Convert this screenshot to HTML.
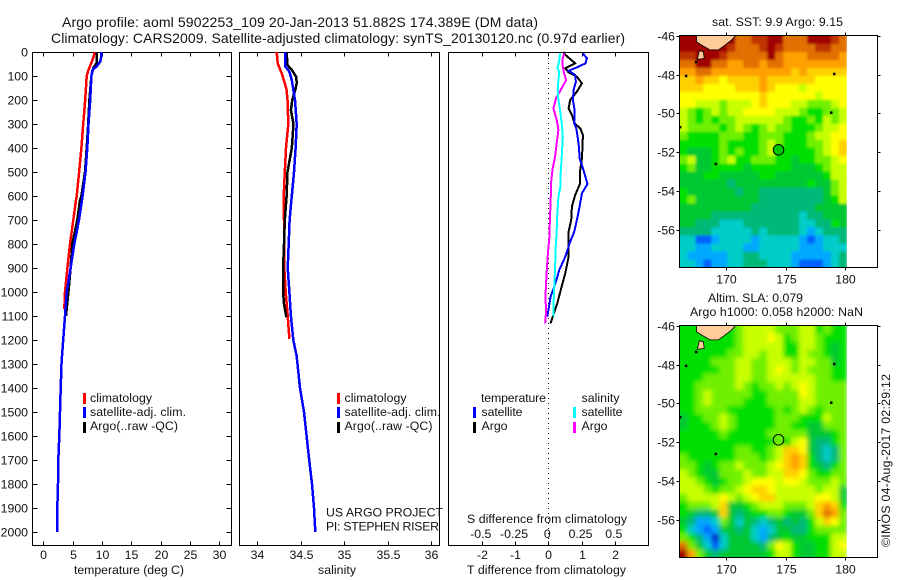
<!DOCTYPE html>
<html lang="en">
<head>
<meta charset="utf-8">
<title>Argo profile chart</title>
<style>
html,body{margin:0;padding:0;background:#fff;}
svg{display:block;}
text{font-family:"Liberation Sans",Arial,sans-serif;font-size:12.3px;fill:#111;}
.title{font-size:14px;}
</style>
</head>
<body>
<svg id="chart" xmlns="http://www.w3.org/2000/svg" width="900" height="580" viewBox="0 0 900 580">
<rect x="0" y="0" width="900" height="580" fill="#ffffff"/>
<text class="title" x="62" y="27" textLength="476" lengthAdjust="spacing">Argo profile: aoml 5902253_109 20-Jan-2013 51.882S 174.389E (DM data)</text>
<text class="title" x="51" y="43" textLength="574" lengthAdjust="spacing">Climatology: CARS2009. Satellite-adjusted climatology: synTS_20130120.nc (0.97d earlier)</text>

<g id="temp-panel"></g>
<g id="sal-panel"></g>
<g id="diff-panel"></g>
<g id="sst-map"></g>
<g id="sla-map"></g>

<text x="74" y="574" textLength="110" lengthAdjust="spacing">temperature (deg C)</text>
<text x="318" y="574" textLength="38" lengthAdjust="spacing">salinity</text>
<text x="467" y="574" textLength="159" lengthAdjust="spacing">T difference from climatology</text>
<text x="467" y="523" textLength="160" lengthAdjust="spacing">S difference from climatology</text>

<g>
<rect x="83" y="393" width="3" height="11" fill="#ff0000"/>
<rect x="83" y="407" width="3" height="11" fill="#0000ff"/>
<rect x="83" y="422" width="3" height="11" fill="#000000"/>
<text x="90" y="402" textLength="62" lengthAdjust="spacing">climatology</text>
<text x="90" y="416" textLength="96" lengthAdjust="spacing">satellite-adj. clim.</text>
<text x="90" y="430" textLength="88" lengthAdjust="spacing">Argo(..raw -QC)</text>
</g>
<g>
<rect x="337" y="393" width="3" height="11" fill="#ff0000"/>
<rect x="337" y="407" width="3" height="11" fill="#0000ff"/>
<rect x="337" y="422" width="3" height="11" fill="#000000"/>
<text x="344.5" y="402" textLength="62" lengthAdjust="spacing">climatology</text>
<text x="344.5" y="416" textLength="96" lengthAdjust="spacing">satellite-adj. clim.</text>
<text x="344.5" y="430" textLength="88" lengthAdjust="spacing">Argo(..raw -QC)</text>
</g>
<text x="326" y="516.5" textLength="117" lengthAdjust="spacing">US ARGO PROJECT</text>
<text x="326" y="530.5" textLength="113" lengthAdjust="spacing">PI: STEPHEN RISER</text>

<g>
<text x="481" y="402" textLength="65" lengthAdjust="spacing">temperature</text>
<text x="581.5" y="402" textLength="38" lengthAdjust="spacing">salinity</text>
<rect x="473" y="407" width="3" height="11" fill="#0000ff"/>
<rect x="473" y="422" width="3" height="11" fill="#000000"/>
<rect x="573" y="407" width="3" height="11" fill="#00ffff"/>
<rect x="573" y="422" width="3" height="11" fill="#ff00ff"/>
<text x="481.5" y="416" textLength="41" lengthAdjust="spacing">satellite</text>
<text x="481.5" y="430" textLength="26" lengthAdjust="spacing">Argo</text>
<text x="581.5" y="416" textLength="41" lengthAdjust="spacing">satellite</text>
<text x="581.5" y="430" textLength="26" lengthAdjust="spacing">Argo</text>
</g>

<text x="712" y="26" textLength="131" lengthAdjust="spacing">sat. SST: 9.9 Argo: 9.15</text>
<text x="708" y="302" textLength="95" lengthAdjust="spacing">Altim. SLA: 0.079</text>
<text x="690" y="316" textLength="173" lengthAdjust="spacing">Argo h1000: 0.058 h2000: NaN</text>
<text transform="translate(890,547) rotate(-90)" x="0" y="0" textLength="173" lengthAdjust="spacing">©IMOS 04-Aug-2017 02:29:12</text>
</svg>

<script>
// ---- depth profile data (dbar, deg C) ----
const tempClimDepth = [0, 32, 74, 100, 200, 300, 400, 500, 600, 617, 700, 800, 900, 1000, 1070];
const tempClimValue = [8.8, 8.4, 7.7, 7.4, 7.15, 6.8, 6.5, 6.1, 5.7, 5.57, 5.12, 4.55, 4.1, 3.7, 3.58];
const tempArgoDepth = [0, 46, 67, 100, 200, 300, 400, 500, 600, 617, 700, 800, 900, 1000, 1100];
const tempArgoValue = [9.1, 9.1, 8.5, 8.2, 7.85, 7.65, 7.4, 7.1, 6.5, 6.25, 5.8, 4.95, 4.66, 4.27, 3.87];
const tempSatDepth = [0, 18, 40, 60, 74, 100, 200, 300, 400, 500, 600, 700, 800, 900, 1000, 1100, 1200, 1268, 1300, 1400, 1500, 1600, 1700, 1800, 1900, 2000];
const tempSatValue = [9.9, 9.9, 9.7, 9.1, 8.4, 8.2, 8.0, 7.7, 7.5, 7.2, 6.7, 6.08, 5.29, 4.66, 3.98, 3.7, 3.4, 3.19, 3.1, 2.96, 2.85, 2.73, 2.56, 2.5, 2.39, 2.39];

// ---- salinity profile data ----
const salClimDepth = [0, 47, 89, 130, 158, 200, 300, 400, 500, 600, 700, 800, 900, 1000, 1100, 1195];
const salClimValue = [34.226, 34.238, 34.284, 34.32, 34.34, 34.35, 34.36, 34.333, 34.32, 34.307, 34.31, 34.31, 34.314, 34.33, 34.353, 34.372];
const salArgoDepth = [0, 54, 75, 103, 130, 158, 200, 242, 300, 400, 500, 600, 700, 800, 900, 1000, 1050, 1105];
const salArgoValue = [34.34, 34.35, 34.40, 34.45, 34.456, 34.44, 34.406, 34.39, 34.42, 34.40, 34.35, 34.34, 34.32, 34.31, 34.30, 34.30, 34.31, 34.337];
const salSatDepth = [0, 61, 82, 117, 200, 300, 400, 500, 600, 700, 800, 900, 1000, 1100, 1200, 1268, 1400, 1500, 1600, 1700, 1800, 1900, 2000];
const salSatValue = [34.326, 34.326, 34.372, 34.40, 34.437, 34.456, 34.444, 34.425, 34.40, 34.375, 34.364, 34.353, 34.372, 34.39, 34.417, 34.456, 34.494, 34.54, 34.57, 34.60, 34.632, 34.655, 34.67];

// ---- difference-from-climatology data ----
const diffTSatDepth = [6, 26, 47, 64, 78, 96, 124, 158, 200, 242, 297, 318, 353, 394, 443, 492, 550, 589, 644, 700, 749, 797, 853, 908, 971, 1019, 1061, 1103];
const diffTSatValue = [1.04, 1.16, 1.12, 0.86, 0.61, 0.81, 0.83, 0.76, 0.74, 0.79, 0.78, 0.84, 0.88, 0.92, 0.94, 1.06, 1.18, 1.01, 0.94, 0.86, 0.78, 0.64, 0.51, 0.33, 0.2, 0.07, 0.02, -0.03];
const diffTArgoDepth = [0, 12, 47, 68, 85, 103, 131, 165, 200, 235, 262, 297, 318, 346, 394, 443, 492, 547, 596, 644, 700, 749, 797, 853, 922, 978, 1047, 1117, 1131];
const diffTArgoValue = [0.45, 0.51, 0.81, 0.51, 0.61, 0.86, 1.01, 0.86, 0.66, 0.61, 0.71, 0.79, 0.96, 1.04, 1.03, 1.01, 0.96, 0.96, 0.81, 0.71, 0.69, 0.61, 0.61, 0.61, 0.51, 0.40, 0.27, 0.10, 0.07];
const diffSArgoDepth = [6, 33, 61, 89, 117, 151, 193, 235, 283, 325, 381, 436, 485, 547, 617, 686, 769, 839, 922, 1006, 1089, 1131];
const diffSArgoValue = [0.119, 0.106, 0.109, 0.119, 0.134, 0.101, 0.058, 0.038, 0.063, 0.076, 0.063, 0.051, 0.033, 0.02, 0.018, 0.013, 0.008, -0.003, -0.013, -0.02, -0.018, -0.023];
const diffSSatDepth = [6, 40, 68, 82, 117, 158, 200, 242, 297, 353, 436, 506, 554, 603, 672, 742, 811, 894, 978, 1061, 1103];
const diffSSatValue = [0.088, 0.081, 0.068, 0.083, 0.076, 0.071, 0.076, 0.088, 0.101, 0.109, 0.101, 0.093, 0.093, 0.076, 0.068, 0.063, 0.056, 0.051, 0.045, 0.038, 0.038];

// ---- tick labels ----
const depthTicks = [0, 100, 200, 300, 400, 500, 600, 700, 800, 900, 1000, 1100, 1200, 1300, 1400, 1500, 1600, 1700, 1800, 1900, 2000];
const tempTicks = [0, 5, 10, 15, 20, 25, 30];
const salTicks = [34, 34.5, 35, 35.5, 36];
const diffTTicks = [-2, -1, 0, 1, 2];
const diffSTicks = [-0.5, -0.25, 0, 0.25, 0.5];
const lonTicks = [170, 175, 180];
const latTicks = [46, 48, 50, 52, 54, 56];

// ---- map data: colour-class per grid cell (rows N to S, cols W to E) ----
const sstGrid = [
[14,14,14,14,14,14,14,12,12,13,13,14,14,12,12,12,14,14,14,13,12],
[14,14,14,14,14,14,13,12,12,12,13,14,13,12,12,12,12,13,13,12,12],
[13,13,14,14,14,13,12,12,12,12,12,14,12,11,11,11,12,12,12,12,11],
[12,12,14,14,12,12,11,11,12,12,11,12,12,11,11,11,11,11,11,11,11],
[11,11,12,12,11,11,11,11,11,11,11,11,11,11,10,11,10,10,10,10,10],
[10,10,11,10,10,9,10,10,10,10,11,10,10,10,10,10,10,9,9,9,9],
[10,10,10,9,9,9,9,10,10,10,11,10,9,9,9,8,9,9,9,9,9],
[9,9,9,9,9,9,9,9,9,9,10,9,9,9,9,9,9,8,9,9,9],
[9,9,8,8,8,7,8,8,8,9,10,9,9,9,8,8,7,7,7,8,9],
[8,7,6,7,8,7,8,8,9,9,9,9,8,8,8,7,6,6,7,7,8],
[8,7,6,7,6,7,7,8,8,8,8,8,8,7,6,6,7,6,8,7,8],
[8,7,7,7,7,6,7,8,7,6,7,8,7,7,6,6,6,7,8,8,9],
[7,6,6,6,6,7,7,7,6,6,7,7,7,6,6,6,7,8,8,9,9],
[6,6,6,6,6,7,6,6,6,6,7,8,7,6,6,6,7,7,8,9,10],
[6,5,5,5,6,7,6,7,6,6,7,8,6,6,6,6,6,7,8,9,10],
[7,8,5,5,6,7,8,6,6,7,7,7,6,6,5,6,6,7,7,8,9],
[6,7,5,5,6,6,6,6,5,6,6,6,6,6,5,5,5,6,7,8,8],
[5,5,5,6,6,5,5,5,5,5,6,6,5,5,5,5,5,5,6,8,8],
[5,5,5,5,5,5,4,5,5,5,5,5,5,5,5,5,6,5,5,7,8],
[6,5,5,5,5,5,5,4,5,5,4,4,4,4,4,4,4,4,5,7,8],
[6,7,5,5,5,5,5,5,5,5,4,4,4,4,4,4,4,4,5,6,8],
[5,5,5,5,5,5,5,5,5,4,4,4,4,4,4,4,4,5,5,5,5],
[5,5,5,5,4,4,4,4,4,4,4,4,4,4,4,3,4,4,5,5,5],
[5,5,4,4,4,3,3,3,4,4,4,4,4,4,4,3,3,4,4,6,5],
[4,4,4,4,3,3,3,3,3,4,3,4,4,4,4,3,2,3,4,4,4],
[3,3,1,1,2,3,3,3,3,2,3,3,3,3,3,2,1,2,3,3,4],
[3,3,2,2,3,3,3,3,2,2,3,3,3,3,3,2,2,2,3,3,3],
[3,2,2,2,2,2,3,3,4,4,3,3,3,3,2,2,2,2,2,3,4],
[3,3,2,1,2,2,3,3,4,4,4,3,3,3,2,1,1,1,2,3,4]
];
const slaGrid = [
[6,6,6,6,6,6,6,7,8,8,8,8,7,7,7,8,8,6,7,6,6],
[6,6,6,6,6,6,6,7,8,8,8,9,8,6,7,8,8,7,6,6,6],
[6,6,6,6,6,6,6,7,8,8,8,8,8,6,6,8,8,7,6,5,6],
[6,6,6,6,6,6,7,7,8,8,7,8,8,6,6,8,7,7,6,5,6],
[6,6,6,6,7,7,7,8,8,7,7,8,8,8,7,8,8,7,7,5,6],
[6,6,6,6,6,7,7,8,8,7,7,8,9,8,7,8,7,7,7,6,6],
[6,6,6,7,7,7,7,8,8,7,7,8,8,8,8,8,8,7,7,6,6],
[6,6,7,7,7,7,7,8,7,6,7,7,8,7,8,9,8,7,7,7,7],
[6,6,7,8,7,7,7,7,7,6,6,7,7,7,7,9,8,7,7,7,7],
[6,6,7,8,7,7,7,7,6,6,6,7,7,7,7,8,8,7,7,7,7],
[6,6,7,7,7,7,6,6,6,6,6,6,7,6,7,8,7,6,7,7,7],
[5,6,6,7,7,8,7,6,6,6,6,6,7,7,7,6,6,6,8,7,7],
[5,6,6,6,7,8,7,6,6,6,6,6,7,7,6,6,5,5,7,7,7],
[6,6,6,6,6,7,6,6,6,6,6,7,7,7,7,7,5,5,5,6,7],
[6,6,6,6,6,6,6,6,6,6,6,6,7,6,8,9,5,4,4,6,7],
[6,6,6,6,6,6,6,7,7,6,6,7,8,10,10,9,5,4,3,4,7],
[7,6,6,6,6,6,6,7,7,7,6,7,8,10,11,10,6,4,3,4,7],
[7,7,6,5,6,7,7,8,7,7,7,8,9,10,11,10,6,5,4,6,7],
[8,7,6,5,5,7,7,7,8,7,7,8,8,10,10,9,7,6,6,7,7],
[8,8,7,6,5,6,7,7,8,9,9,9,8,9,9,8,7,7,7,8,7],
[8,8,8,7,6,7,7,8,9,10,10,9,8,8,8,8,8,7,8,8,5],
[7,8,8,8,8,9,8,7,8,9,10,10,8,8,8,8,8,9,9,8,5],
[6,7,7,7,8,10,5,5,6,7,8,8,8,7,7,7,8,10,11,10,6],
[6,5,4,4,5,10,5,4,5,6,6,7,7,6,5,5,7,10,12,11,7],
[5,4,2,2,3,7,5,3,5,4,3,4,5,4,5,4,6,8,10,9,7],
[6,3,2,1,2,5,5,4,5,3,2,3,5,5,4,4,6,7,7,7,7],
[7,6,4,2,0,3,5,5,5,3,2,4,5,6,5,5,6,6,6,8,8],
[12,7,5,3,1,3,5,5,5,5,4,7,9,8,6,5,5,6,6,8,9],
[14,11,7,5,4,5,5,5,5,5,5,6,8,8,6,5,5,6,6,8,8]
];
const landLon = [167.5, 170.8, 170.45, 169.9, 169.33, 168.63, 167.93, 167.5];
const landLat = [-45.97, -45.97, -46.2, -46.47, -46.72, -46.72, -46.47, -46.3];
const islandLon = [167.73, 168.07, 168.15, 167.56];
const islandLat = [-46.76, -46.81, -47.16, -47.21];
const spotLon = [167.45, 166.6, 166.1, 169.1, 178.8, 179.05];
const spotLat = [-47.33, -48.05, -50.7, -52.6, -49.95, -47.95];
const profileLon = 174.389;
const profileLat = -51.882;
const mapPalette = ['#0000c8','#0060ff','#00a8ff','#00ccc8','#00b878','#00c830','#00e000','#70f000','#c8ff00','#ffff00','#ffd000','#ffa000','#e07000','#c03000','#a00000'];

// ---- axis functions ----
const yDepth = d => 52 + 0.24 * d;
const xTemp = t => 43.3 + 5.867 * t;
const xSal = s => 257 + 87 * (s - 34);
const xDiffT = t => 548.3 + 33.25 * t;
const xDiffS = s => 548.3 + 133 * s;
const xLon = lon => 726.3 + 11.9 * (lon - 170);
const yLat = (lat, top) => top + 0.5 + 19.35 * (-46 - lat);

const NS = 'http://www.w3.org/2000/svg';
function make(tag, attrs, parent) {
  const el = document.createElementNS(NS, tag);
  for (const k in attrs) el.setAttribute(k, attrs[k]);
  parent.appendChild(el);
  return el;
}
function frame(parent, x1, x2, y1, y2) {
  const el = make('rect', {x: x1, y: y1, width: x2 - x1, height: y2 - y1, fill: 'none', stroke: '#000', 'stroke-width': 1, 'shape-rendering': 'crispEdges'}, parent);
  
  
}
function tick(parent, x1, y1, x2, y2) {
  const el = make('line', {x1: x1, y1: y1, x2: x2, y2: y2, stroke: '#000', 'stroke-width': 1, 'shape-rendering': 'crispEdges'}, parent);
  
  
}
function label(parent, x, y, str, anchor) {
  const el = make('text', {x: x, y: y, 'text-anchor': anchor}, parent);
  el.textContent = str;
  
  
}
function profile(parent, depths, values, xf, color, width) {
  const pts = depths.map((d, i) => xf(values[i]).toFixed(1) + ',' + yDepth(d).toFixed(1)).join(' ');
  const el = make('polyline', {points: pts, fill: 'none', stroke: color, 'stroke-width': width, 'stroke-linejoin': 'miter', 'shape-rendering': 'crispEdges'}, parent);
  
  
}

// ---- temperature panel ----
const tp = document.getElementById('temp-panel');
frame(tp, 32.5, 231.5, 52.5, 545.5);
depthTicks.forEach(d => {
  const y = Math.round(yDepth(d)) + 0.5;
  tick(tp, 32.5, y, 37.5, y);
  tick(tp, 226.5, y, 231.5, y);
  label(tp, 28, y + 4, String(d), 'end');
});
tempTicks.forEach(t => {
  const x = Math.round(xTemp(t)) + 0.5;
  tick(tp, x, 52.5, x, 56.5);
  tick(tp, x, 541.5, x, 545.5);
  label(tp, x, 559, String(t), 'middle');
});
profile(tp, tempClimDepth, tempClimValue, xTemp, '#ff0000', 2.5);
profile(tp, tempArgoDepth, tempArgoValue, xTemp, '#000000', 2.5);
profile(tp, tempSatDepth, tempSatValue, xTemp, '#0000ff', 2.5);

// ---- salinity panel ----
const sp = document.getElementById('sal-panel');
frame(sp, 239.5, 439.5, 52.5, 545.5);
salTicks.forEach(s => {
  const x = Math.round(xSal(s)) + 0.5;
  tick(sp, x, 52.5, x, 56.5);
  tick(sp, x, 541.5, x, 545.5);
  label(sp, x, 559, String(s), 'middle');
});
profile(sp, salClimDepth, salClimValue, xSal, '#ff0000', 2.5);
profile(sp, salArgoDepth, salArgoValue, xSal, '#000000', 2.5);
profile(sp, salSatDepth, salSatValue, xSal, '#0000ff', 2.5);

// ---- difference panel ----
const dp = document.getElementById('diff-panel');
frame(dp, 448.5, 648.5, 52.5, 545.5);
const zeroLine = make('line', {x1: 548.5, y1: 53, x2: 548.5, y2: 545, stroke: '#000', 'stroke-width': 1, 'stroke-dasharray': '1 4', 'shape-rendering': 'crispEdges'}, dp);


diffTTicks.forEach(t => {
  const x = Math.round(xDiffT(t)) + 0.5;
  tick(dp, x, 52.5, x, 56.5);
  tick(dp, x, 541.5, x, 545.5);
  label(dp, x, 559, String(t), 'middle');
});
diffSTicks.forEach(s => {
  label(dp, xDiffS(s) - 1, 538, String(s), 'middle');
});
profile(dp, diffTArgoDepth, diffTArgoValue, xDiffT, '#000000', 2);
profile(dp, diffTSatDepth, diffTSatValue, xDiffT, '#0000ff', 2);
profile(dp, diffSArgoDepth, diffSArgoValue, xDiffS, '#ff00ff', 2);
profile(dp, diffSSatDepth, diffSSatValue, xDiffS, '#00ffff', 2);

// ---- maps ----
const gridLon0 = 166.07;
const gridLonStep = 0.67;
const gridLatStep = 0.4125;
function drawMap(parent, grid, top, bottom, id, blur, markerFill) {
  const defs = make('defs', {}, parent);
  const clip = make('clipPath', {id: id + '-clip'}, defs);
  make('rect', {x: 679.5, y: top, width: 198, height: bottom - top}, clip);
  const f = make('filter', {id: id + '-blur', x: '-10%', y: '-10%', width: '120%', height: '120%'}, defs);
  make('feGaussianBlur', {stdDeviation: blur}, f);
  const outer = make('g', {'clip-path': 'url(#' + id + '-clip)'}, parent);
  const cells = make('g', {filter: 'url(#' + id + '-blur)'}, outer);
  const pad = 14;
  grid.forEach((row, r) => row.forEach((v, c) => {
    const x0 = xLon(gridLon0 + c * gridLonStep);
    const x1 = xLon(gridLon0 + (c + 1) * gridLonStep);
    const y0 = yLat(-46 - r * gridLatStep, top);
    const y1 = yLat(-46 - (r + 1) * gridLatStep, top);
    const X0 = c === 0 ? x0 - pad : x0;
    const Y0 = r === 0 ? y0 - pad : y0;
    const Y1 = r === grid.length - 1 ? y1 + pad : y1;
    const cell = make('rect', {x: X0.toFixed(2), y: Y0.toFixed(2), width: (x1 - X0 + 0.4).toFixed(2), height: (Y1 - Y0 + 0.4).toFixed(2), fill: mapPalette[v]}, cells);
    
    
  }));
  // white area east of the data extent hides the blur overspill
  const mask = make('rect', {x: xLon(gridLon0 + 21 * gridLonStep), y: top, width: 40, height: bottom - top, fill: '#fff'}, outer);
  
  
  const poly = (lons, lats) => lons.map((lon, i) => xLon(lon).toFixed(1) + ',' + yLat(lats[i], top).toFixed(1)).join(' ');
  const land = make('polygon', {points: poly(landLon, landLat), fill: '#ffcc99', stroke: '#000', 'stroke-width': 0.8}, outer);
  
  
  const island = make('polygon', {points: poly(islandLon, islandLat), fill: '#ffcc99', stroke: '#000', 'stroke-width': 0.8}, outer);
  
  
  spotLon.forEach((lon, i) => {
    const spot = make('rect', {x: xLon(lon) - 1, y: yLat(spotLat[i], top) - 1, width: 2.5, height: 2.5, fill: '#000'}, outer);
    
    
  });
  frame(parent, 679.5, 877.5, top, bottom);
  lonTicks.forEach(l => {
    const x = Math.round(xLon(l)) + 0.5;
    tick(parent, x, top - 3, x, top);
    tick(parent, x, bottom, x, bottom + 3);
    label(parent, x, bottom + 16, String(l), 'middle');
  });
  latTicks.forEach(l => {
    const y = Math.round(yLat(-l, top)) + 0.5;
    tick(parent, 676.5, y, 679.5, y);
    tick(parent, 877.5, y, 880.5, y);
    label(parent, 675, y + 4, '-' + l, 'end');
  });
  const marker = make('circle', {cx: xLon(profileLon), cy: yLat(profileLat, top), r: 5.3, fill: markerFill, stroke: '#000', 'stroke-width': 1}, parent);
  
  
}
drawMap(document.getElementById('sst-map'), sstGrid, 35.5, 267.5, 'sst', 1.2, '#00c800');
drawMap(document.getElementById('sla-map'), slaGrid, 325.5, 557.5, 'sla', 2.5, 'none');
</script>
</body>
</html>
